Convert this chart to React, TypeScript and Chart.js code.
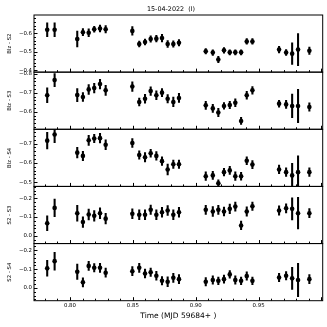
import React, { useEffect, useRef } from "react";
import { Chart, registerables } from "chart.js";

Chart.register(...registerables);

const TITLE = "15-04-2022  (I)";
const X_LABEL = "Time (MJD 59684+ )";
const X_TICKS = [0.8, 0.85, 0.9, 0.95];
const X_MIN = 0.7714;
const X_MAX = 1.001;

const times = [
  0.7819, 0.7878, 0.8058, 0.8103, 0.8149, 0.8193, 0.8239, 0.8284, 0.8496, 0.8551,
  0.8597, 0.8642, 0.8687, 0.8732, 0.8777, 0.8822, 0.8867, 0.908, 0.9136, 0.918,
  0.9225, 0.9271, 0.9315, 0.9361, 0.9406, 0.9451, 0.9663, 0.9719, 0.9767, 0.9814,
  0.9904,
];

const panelLabels = ["Blz - S2", "Blz - S3", "Blz - S4", "S2 - S3", "S2 - S4"];

const blzS2 = [
  -0.618, -0.618, -0.568, -0.605, -0.602, -0.621, -0.625, -0.621, -0.612, -0.541,
  -0.552, -0.568, -0.57, -0.573, -0.541, -0.541, -0.548, -0.502, -0.495, -0.457,
  -0.507, -0.496, -0.496, -0.496, -0.555, -0.555, -0.511, -0.495, -0.489, -0.511,
  -0.505,
];
const blzS2Err = [
  0.037, 0.037, 0.043, 0.019, 0.021, 0.016, 0.018, 0.02, 0.023, 0.016, 0.016, 0.017,
  0.018, 0.02, 0.018, 0.017, 0.017, 0.015, 0.015, 0.017, 0.015, 0.014, 0.014, 0.014,
  0.015, 0.015, 0.018, 0.016, 0.058, 0.087, 0.02,
];

const blzS3 = [
  -0.687, -0.767, -0.688, -0.678, -0.718, -0.725, -0.746, -0.713, -0.733, -0.652,
  -0.669, -0.709, -0.687, -0.701, -0.669, -0.652, -0.673, -0.634, -0.618, -0.596,
  -0.631, -0.636, -0.648, -0.552, -0.687, -0.713, -0.643, -0.639, -0.631, -0.631,
  -0.625,
];
const blzS3Err = [
  0.039, 0.035, 0.034, 0.023, 0.026, 0.025, 0.025, 0.026, 0.025, 0.021, 0.023, 0.022,
  0.023, 0.021, 0.022, 0.025, 0.024, 0.021, 0.021, 0.022, 0.017, 0.019, 0.021, 0.019,
  0.021, 0.02, 0.018, 0.021, 0.062, 0.088, 0.022,
];

const blzS4 = [
  -0.715, -0.747, -0.653, -0.636, -0.717, -0.726, -0.728, -0.694, -0.703, -0.641,
  -0.629, -0.65, -0.636, -0.609, -0.566, -0.593, -0.593, -0.531, -0.535, -0.494,
  -0.552, -0.561, -0.531, -0.531, -0.611, -0.591, -0.566, -0.552, -0.535, -0.552,
  -0.552,
];
const blzS4Err = [
  0.043, 0.043, 0.028, 0.024, 0.026, 0.022, 0.025, 0.025, 0.023, 0.022, 0.024, 0.02,
  0.022, 0.022, 0.028, 0.022, 0.022, 0.022, 0.021, 0.018, 0.02, 0.021, 0.022, 0.02,
  0.02, 0.021, 0.022, 0.022, 0.062, 0.085, 0.022,
];

const s2S3 = [
  -0.067, -0.148, -0.12, -0.073, -0.113, -0.106, -0.12, -0.091, -0.117, -0.112,
  -0.112, -0.138, -0.112, -0.125, -0.134, -0.112, -0.125, -0.138, -0.129, -0.138,
  -0.129, -0.143, -0.155, -0.055, -0.129, -0.157, -0.134, -0.146, -0.143, -0.12,
  -0.12,
];
const s2S3Err = [
  0.039, 0.047, 0.042, 0.028, 0.029, 0.028, 0.029, 0.028, 0.026, 0.026, 0.026, 0.025,
  0.026, 0.026, 0.026, 0.026, 0.026, 0.024, 0.026, 0.024, 0.024, 0.026, 0.024, 0.023,
  0.025, 0.022, 0.025, 0.024, 0.059, 0.084, 0.024,
];

const s2S4 = [
  -0.104, -0.142, -0.086, -0.03, -0.117, -0.107, -0.107, -0.081, -0.089, -0.107,
  -0.077, -0.083, -0.065, -0.038, -0.033, -0.054, -0.047, -0.033, -0.042, -0.038,
  -0.047, -0.072, -0.042, -0.038, -0.063, -0.038, -0.056, -0.065, -0.051, -0.042,
  -0.047,
];
const s2S4Err = [
  0.042, 0.047, 0.041, 0.024, 0.024, 0.022, 0.024, 0.024, 0.024, 0.024, 0.023, 0.022,
  0.023, 0.022, 0.026, 0.024, 0.024, 0.022, 0.022, 0.02, 0.022, 0.02, 0.022, 0.02,
  0.022, 0.02, 0.022, 0.022, 0.058, 0.088, 0.024,
];

const panelValues = [blzS2, blzS3, blzS4, s2S3, s2S4];
const panelErrors = [blzS2Err, blzS3Err, blzS4Err, s2S3Err, s2S4Err];
const panelMin = [-0.698, -0.809, -0.774, -0.262, -0.235];
const panelMax = [-0.389, -0.508, -0.478, 0.041, 0.067];
const panelTicks = [
  [-0.6, -0.5, -0.4],
  [-0.8, -0.7, -0.6],
  [-0.7, -0.6, -0.5],
  [-0.2, -0.1, 0.0],
  [-0.2, -0.1, 0.0],
];

const FONT = "'DejaVu Sans', sans-serif";
const fmtY = (v: number) => {
  const s = Math.abs(v).toFixed(1);
  return v < -1e-9 ? "\u2212" + s : s;
};

const framePlugin = {
  id: "framePlugin",
  afterDraw(chart: any) {
    const { ctx, chartArea } = chart;
    const xs = chart.scales.x;
    ctx.save();
    ctx.strokeStyle = "#000";
    ctx.lineWidth = 1;
    for (let i = 0; i < panelLabels.length; i++) {
      const ys = chart.scales["y" + i];
      const top = ys.top;
      const bottom = ys.bottom;
      ctx.strokeRect(chartArea.left, top, chartArea.right - chartArea.left, bottom - top);
      ctx.beginPath();
      const lo = Math.ceil(Math.min(ys.min, ys.max) / 0.02 - 1e-6);
      const hi = Math.floor(Math.max(ys.min, ys.max) / 0.02 + 1e-6);
      for (let k = lo; k <= hi; k++) {
        const v = k * 0.02;
        const major = k % 5 === 0;
        const p = Math.round(ys.getPixelForValue(v)) + 0.5;
        if (p < top + 0.5 || p > bottom - 0.5) continue;
        ctx.moveTo(chartArea.left, p);
        ctx.lineTo(chartArea.left + (major ? 3.5 : 2), p);
      }
      const xlo = Math.ceil(xs.min / 0.01 - 1e-6);
      const xhi = Math.floor(xs.max / 0.01 + 1e-6);
      for (let k = xlo; k <= xhi; k++) {
        const v = k * 0.01;
        const major = k % 5 === 0;
        const p = Math.round(xs.getPixelForValue(v)) + 0.5;
        ctx.moveTo(p, bottom);
        ctx.lineTo(p, bottom - (major ? 3.5 : 2));
      }
      ctx.stroke();
    }
    ctx.fillStyle = "#000";
    ctx.font = `6.4px ${FONT}`;
    ctx.textAlign = "center";
    ctx.textBaseline = "middle";
    ctx.fillText(TITLE, 171, 9.5);
    ctx.restore();
  },
};

export default function App() {
  const canvasRef = useRef<HTMLCanvasElement | null>(null);

  useEffect(() => {
    document.body.style.margin = "0";
    const canvas = canvasRef.current;
    if (!canvas) return;

    const datasets: any[] = [];
    const scales: any = {
      x: {
        type: "linear",
        position: "bottom",
        min: X_MIN,
        max: X_MAX,
        offset: false,
        grid: { display: false, drawTicks: false },
        border: { display: false },
        afterBuildTicks: (s: any) => {
          s.ticks = X_TICKS.map((v) => ({ value: v }));
        },
        afterFit: (s: any) => {
          s.height = 26.3;
        },
        ticks: {
          autoSkip: false,
          maxRotation: 0,
          padding: 1.5,
          color: "#000",
          font: { family: FONT, size: 5.4 },
          callback: (v: any) => Number(v).toFixed(2),
        },
        title: {
          display: true,
          text: X_LABEL,
          color: "#000",
          font: { family: FONT, size: 7.5 },
          padding: { top: 0, bottom: 6.5 },
        },
      },
    };

    for (let i = 0; i < panelLabels.length; i++) {
      const vals = panelValues[i];
      const errs = panelErrors[i];
      datasets.push({
        type: "bar",
        data: times.map((t, j) => ({ x: t, y: [vals[j] - errs[j], vals[j] + errs[j]] })),
        yAxisID: "y" + i,
        xAxisID: "x",
        backgroundColor: "#000",
        borderWidth: 0,
        barThickness: 1.4,
        grouped: false,
        order: 2,
      });
      datasets.push({
        type: "scatter",
        data: times.map((t, j) => ({ x: t, y: vals[j] })),
        yAxisID: "y" + i,
        xAxisID: "x",
        pointRadius: 2.3,
        pointStyle: "circle",
        backgroundColor: "#000",
        borderColor: "#000",
        borderWidth: 0,
        showLine: false,
        order: 1,
      });
    }

    // stacked axes are placed bottom-up in definition order, so define the last panel first
    for (let i = panelLabels.length - 1; i >= 0; i--) {
      const tickVals = panelTicks[i];
      scales["y" + i] = {
        type: "linear",
        position: "left",
        stack: "panels",
        stackWeight: 1,
        reverse: true,
        min: panelMin[i],
        max: panelMax[i],
        beginAtZero: false,
        grid: { display: false, drawTicks: false },
        border: { display: false },
        afterBuildTicks: (s: any) => {
          s.ticks = tickVals.map((v) => ({ value: v }));
        },
        afterFit: (s: any) => {
          s.width = 34;
        },
        ticks: {
          autoSkip: false,
          padding: 2,
          color: "#000",
          font: { family: FONT, size: 5.4 },
          callback: (v: any) => fmtY(Number(v)),
        },
        title: {
          display: true,
          text: panelLabels[i],
          color: "#000",
          font: { family: FONT, size: 5.4 },
          padding: { top: 6.8, bottom: 0 },
        },
      };
    }

    const chart = new Chart(canvas, {
      type: "scatter",
      data: { datasets },
      options: {
        animation: false,
        responsive: false,
        devicePixelRatio: 1,
        events: [],
        layout: { padding: { top: 15, right: 4.3, left: 0, bottom: 0 } },
        plugins: {
          legend: { display: false },
          tooltip: { enabled: false },
          title: { display: false },
        },
        scales,
      },
      plugins: [framePlugin],
    } as any);

    return () => chart.destroy();
  }, []);

  return (
    <div style={{ position: "fixed", left: 0, top: 0, width: 327, height: 327, background: "#fff" }}>
      <canvas ref={canvasRef} width={327} height={327} style={{ display: "block" }} />
    </div>
  );
}
